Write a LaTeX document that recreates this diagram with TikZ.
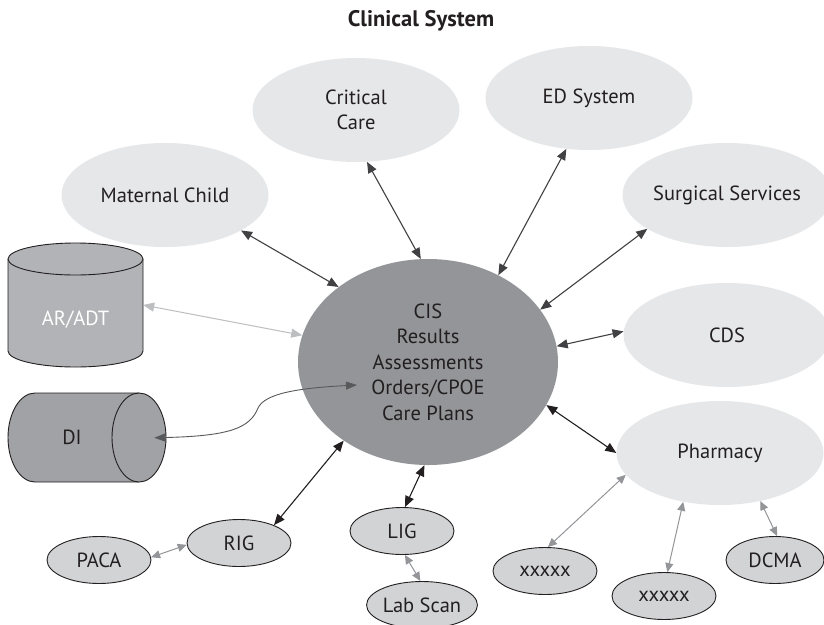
\documentclass[tikz,border=0pt]{standalone}
\usepackage{fontspec}
\setmainfont{PT Sans}
\usetikzlibrary{shapes.geometric,arrows.meta}

\definecolor{inkdark}{HTML}{231F20}
\definecolor{linkdark}{HTML}{414042}
\definecolor{linkmid}{HTML}{939598}
\definecolor{linklight}{HTML}{BCBEC0}
\definecolor{linkcurve}{HTML}{58595B}
\definecolor{satfill}{HTML}{E6E7E8}
\definecolor{hubfill}{HTML}{939598}
\definecolor{subfill}{HTML}{D1D3D4}
\definecolor{arfill}{HTML}{B1B3B6}
\definecolor{difill}{HTML}{A0A2A5}

\begin{document}
\begin{tikzpicture}[x=1pt,y=-1pt,
  every node/.style={font=\fontsize{20.5}{25.5}\selectfont, text=inkdark},
  satellite/.style={ellipse, fill=satfill, inner sep=0pt,
    minimum width=207pt, minimum height=104pt, align=center},
  hub/.style={ellipse, fill=hubfill, inner sep=0pt,
    minimum width=260pt, minimum height=206pt, align=center},
  leaf/.style={ellipse, draw=inkdark, line width=0.9pt, fill=subfill,
    inner sep=0pt, minimum width=104pt, minimum height=47pt},
  cyl/.style={draw=inkdark, line width=0.9pt},
  port/.style={inner sep=0pt},
  link/.style={{Triangle[length=11pt,width=9pt]}-{Triangle[length=11pt,width=9pt]},
    line width=1.1pt},
  minorlink/.style={{Triangle[length=9pt,width=8pt]}-{Triangle[length=9pt,width=8pt]},
    line width=1pt, linkmid},
  curvelink/.style={{Triangle[length=11pt,width=8pt]}-{Triangle[length=11pt,width=8pt]},
    line width=0.9pt, linkcurve},
]
% canvas
\fill[white] (0,0) rectangle (824,624);
\useasboundingbox (0,0) rectangle (824,624);

% title
\node[font=\bfseries\fontsize{22.5}{26}\selectfont] (title) at (421,21) {Clinical System};

% satellite systems
\node[satellite] (cc)  at (356,110) {Critical\\Care};
\node[satellite] (ed)  at (589,98)  {ED System};
\node[satellite] (mc)  at (165,195) {Maternal Child};
\node[satellite] (ss)  at (727,195) {Surgical Services};
\node[satellite] (cds) at (727,335) {CDS};
\node[satellite] (ph)  at (720,453) {Pharmacy};

% central clinical information system
\node[hub] (cis) at (428,362) {CIS\\Results\\Assessments\\Orders/CPOE\\Care Plans};

% interface engines and downstream systems
\node[leaf] (rig)  at (239,543) {RIG};
\node[leaf] (paca) at (99,560)  {PACA};
\node[leaf] (lig)  at (402,531) {LIG};
\node[leaf] (lab)  at (422,605) {Lab Scan};
\node[leaf] (x1)   at (545,571) {xxxxx};
\node[leaf] (x2)   at (664,596) {xxxxx};
\node[leaf, minimum width=98pt] (dcma) at (775,560) {DCMA};

% AR/ADT database (upright cylinder)
\path[cyl, fill=arfill] (8,259) -- (8,351)
  arc[start angle=180, end angle=0, x radius=67.5, y radius=16] -- (143,259);
\path[cyl, fill=arfill] (75.5,259) ellipse[x radius=67.5, y radius=16];
\node[port, minimum width=135pt, minimum height=124pt] (ar) at (75.5,305) {};
\node[text=white] (ar-text) at (75.5,320) {AR/ADT};

% DI store (lying cylinder)
\path[cyl, fill=difill] (139,393) -- (35,393)
  arc[start angle=-90, end angle=-270, x radius=27, y radius=44.5] -- (139,482);
\path[cyl, fill=difill] (139,437.5) ellipse[x radius=27, y radius=44.5];
\node[port, minimum width=158pt, minimum height=89pt] (di) at (87,437.5) {};
\node (di-text) at (72,437) {DI};

% links to the hub
\draw[link, linkdark] (mc.-25)     -- (cis.140.5);
\draw[link, linkdark] (cc.-78.7)   -- (cis.94.4);
\draw[link, linkdark] (ed.-114.8)  -- (cis.51.8);
\draw[link, linkdark] (ss.-157.3)  -- (cis.25.3);
\draw[link, linkdark] (cds.178.9)  -- (cis.7.5);
\draw[link, inkdark]  (ph.180)     -- (cis.-20.6);
\draw[link, inkdark]  (rig.27.9)   -- (cis.-137.7);
\draw[link, inkdark]  (lig.83.4)   -- (cis.-92);
\draw[link, linklight, line width=1pt] (ar.east) -- (cis.168.3);

% DI feed into orders
\coordinate (orders-in) at (357,385);
\draw[curvelink, shorten <=-12pt] (di.east)
  .. controls (230,436) and (250,428) .. (258,408)
  .. controls (265,393) and (300,388) .. (orders-in);

% secondary links
\draw[minorlink] (ph.-167.2) -- (x1.83.4);
\draw[minorlink] (ph.-127.6) -- (x2.82.9);
\draw[minorlink] (ph.-50)    -- (dcma.85);
\draw[minorlink] (paca.3.4)  -- (rig.182.2);
\draw[minorlink] (lig.-83.7) -- (lab.94.6);
\end{tikzpicture}
\end{document}
